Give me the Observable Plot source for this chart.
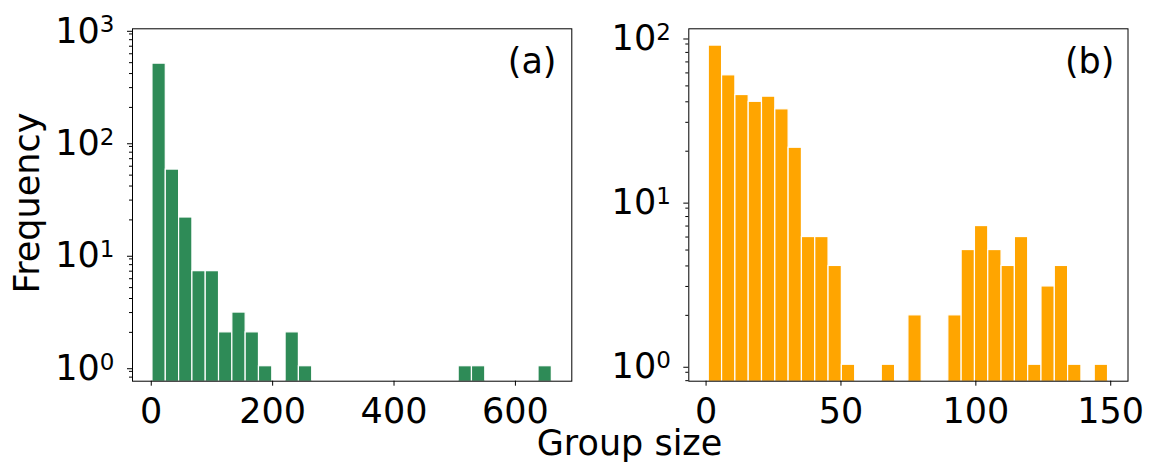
<!DOCTYPE html>
<html><head><meta charset="utf-8">
<script src="https://cdn.jsdelivr.net/npm/d3@7"></script>
<script src="https://cdn.jsdelivr.net/npm/@observablehq/plot@0.6"></script>
<style>
body{margin:0;background:#fff;}
#wrap{position:relative;width:1154px;height:470px;background:#fff;}
#wrap svg{position:absolute;top:0;overflow:visible;}
</style></head><body><div id="wrap"></div>
<script>
// Panel (a): 30 bins over group sizes 2..660
const countsA = [490,56,21,7,7,2,3,2,1,0,2,1,0,0,0,0,0,0,0,0,0,0,0,1,1,0,0,0,0,1];
const rangeA = [2, 660];
// Panel (b): 30 bins over group sizes 1..149
const countsB = [88,58,44,40,43,36,21,6,6,4,1,0,0,1,0,2,0,0,2,5,7,5,4,6,1,3,4,1,0,1];
const rangeB = [1, 149];

const xTicksA = [0, 200, 400, 600];
const xTicksB = [0, 50, 100, 150];
const yTicksA = [1, 10, 100, 1000];
const yTicksB = [1, 10, 100];
const yMinorA = [0.8,0.9,2,3,4,5,6,7,8,9,20,30,40,50,60,70,80,90,200,300,400,500,600,700,800,900];
const yMinorB = [0.8,0.9,2,3,4,5,6,7,8,9,20,30,40,50,60,70,80,90];
const panelLabels = ["(a)", "(b)"];
const xLabel = "Group size";
const yLabel = "Frequency";
const colorA = "#2e8b57", colorB = "#ffa500";

function bins(counts, [lo, hi]) {
  const w = (hi - lo) / counts.length;
  return counts.map((c, i) => ({x1: lo + i * w, x2: lo + (i + 1) * w, count: c})).filter(d => d.count > 0);
}

const FONT = "DejaVu Sans";
const FS = 35;

function supify(svg) {
  d3.select(svg).selectAll("text").each(function () {
    const t = this.textContent;
    if (t.includes("^")) {
      const [base, exp] = t.split("^");
      this.textContent = "";
      const sel = d3.select(this);
      sel.append("tspan").text(base);
      sel.append("tspan").attr("dy", -10.3).attr("font-size", 23).text(exp);
    }
  });
}

function panel({counts, range, color, left, width, mL, mR, xDomain, yDomain, xTicks, yTicks, yMinor, label, labelDx, extra}) {
  const p = Plot.plot({
    width, height: 470,
    marginLeft: mL, marginRight: mR, marginTop: 28.3, marginBottom: 89.3,
    style: {fontFamily: FONT, fontSize: FS + "px", color: "black", background: "transparent", overflow: "visible"},
    x: {domain: xDomain},
    y: {type: "log", domain: yDomain},
    marks: [
      Plot.rectY(bins(counts, range), {x1: "x1", x2: "x2", y1: () => 1e-3, y2: "count", fill: color, stroke: "white", strokeWidth: 1.2, clip: true}),
      Plot.frame({stroke: "black", strokeWidth: 1}),
      Plot.axisX(xTicks, {tickSize: 5, tickPadding: 12, fontSize: FS, label: null, tickFormat: d => String(d)}),
      Plot.axisY(yMinor, {tickSize: 3, tickFormat: () => "", label: null}),
      Plot.axisY(yTicks, {tickSize: 5, tickPadding: 13, fontSize: FS, label: null, dy: 2.5, tickFormat: d => "10^" + Math.round(Math.log10(d))}),
      Plot.text([label], {text: d => d, frameAnchor: "top-right", dx: labelDx, dy: 33.2, textAnchor: "end", lineAnchor: "middle", fontSize: FS}),
      ...extra
    ]
  });
  p.style.left = left + "px";
  supify(p);
  return p;
}

const wrap = document.getElementById("wrap");
wrap.appendChild(panel({
  counts: countsA, range: rangeA, color: colorA, left: 0, width: 580, mL: 132, mR: 8.7,
  xDomain: [-30.9, 692.9], yDomain: [0.736, 1000], xTicks: xTicksA, yTicks: yTicksA, yMinor: yMinorA,
  label: panelLabels[0], labelDx: -15.3,
  extra: [Plot.text([yLabel], {text: d => d, frameAnchor: "left", dx: -105, dy: -2, rotate: -90, textAnchor: "middle", lineAnchor: "middle", fontSize: FS})]
}));
wrap.appendChild(panel({
  counts: countsB, range: rangeB, color: colorB, left: 580, width: 574, mL: 108.3, mR: 26.5,
  xDomain: [-6.4, 156.4], yDomain: [0.794, 111.4], xTicks: xTicksB, yTicks: yTicksB, yMinor: yMinorB,
  label: panelLabels[1], labelDx: -13.5,
  extra: [Plot.text([xLabel], {text: d => d, frameAnchor: "bottom-left", dx: -59.3, dy: 63, textAnchor: "middle", lineAnchor: "middle", fontSize: FS})]
}));
</script></body></html>
